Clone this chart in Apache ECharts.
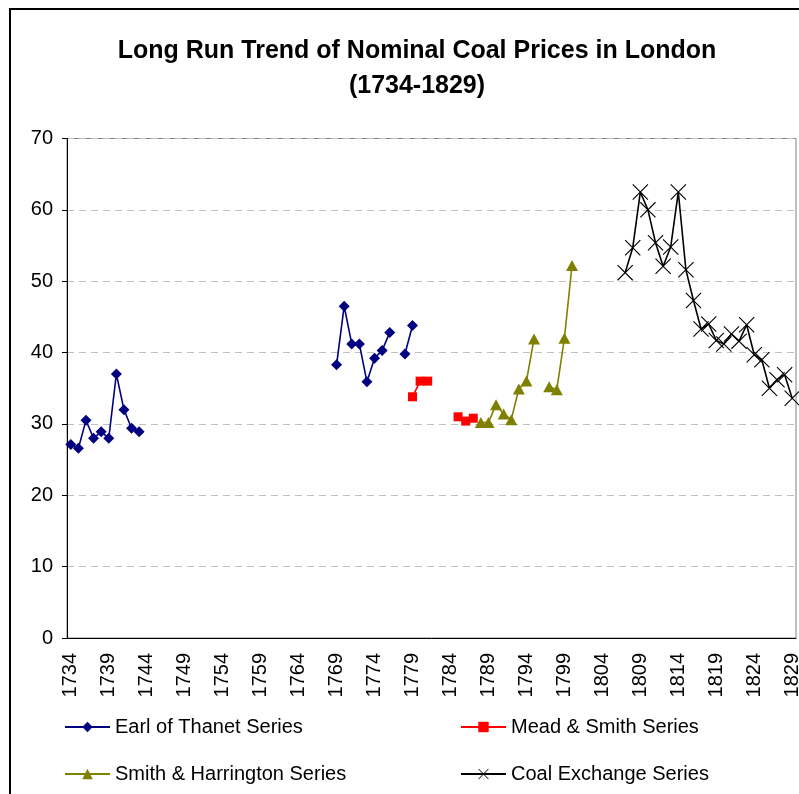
<!DOCTYPE html>
<html>
<head>
<meta charset="utf-8">
<script src="https://cdn.jsdelivr.net/npm/echarts@6/dist/echarts.min.js"></script>
<style>
html,body{margin:0;padding:0;background:#fff;}
#main1{width:799px;height:794px;}
</style>
</head>
<body>
<div id="main1"></div>
<script>
var years = ['1734','1735','1736','1737','1738','1739','1740','1741','1742','1743','1744','1745','1746','1747','1748','1749',
	'1750','1751','1752','1753','1754','1755','1756','1757','1758','1759','1760','1761','1762','1763','1764','1765','1766','1767','1768','1769',
	'1770','1771','1772','1773','1774','1775','1776','1777','1778','1779','1780','1781','1782','1783','1784','1785','1786','1787','1788','1789',
	'1790','1791','1792','1793','1794','1795','1796','1797','1798','1799','1800','1801','1802','1803','1804','1805','1806','1807','1808','1809',
	'1810','1811','1812','1813','1814','1815','1816','1817','1818','1819','1820','1821','1822','1823','1824','1825','1826','1827','1828','1829'];

// [year, price] ; null breaks the line
var thanetData = [['1734',27.1],['1735',26.6],['1736',30.5],['1737',28.0],['1738',28.9],['1739',28.0],['1740',37.0],['1741',32.0],['1742',29.4],['1743',28.9],
	['1744',null],
	['1769',38.3],['1770',46.5],['1771',41.2],['1772',41.2],['1773',35.9],['1774',39.2],['1775',40.3],['1776',42.8],
	['1777',null],
	['1778',39.8],['1779',43.8]];

var meadData = [['1779',33.8],['1780',36.0],['1781',36.0],
	['1782',null],
	['1785',31.0],['1786',30.4],['1787',30.8]];

var smithData = [['1788',30.2],['1789',30.2],['1790',32.7],['1791',31.4],['1792',30.6],['1793',34.9],['1794',36.0],['1795',41.9],
	['1796',null],
	['1797',35.2],['1798',34.8],['1799',42.0],['1800',52.2]];

var coalData = [['1807',51.2],['1808',54.7],['1809',62.5],['1810',60.0],['1811',55.4],['1812',52.1],['1813',54.8],['1814',62.5],
	['1815',51.6],['1816',47.3],['1817',43.3],['1818',44.0],['1819',41.7],['1820',41.2],['1821',42.6],['1822',41.6],['1823',43.9],
	['1824',39.7],['1825',39.0],['1826',35.0],['1827',36.2],['1828',36.9],['1829',33.6]];

var seriesNames = ['Earl of Thanet Series','Mead & Smith Series','Smith & Harrington Series','Coal Exchange Series'];
var yTicks = [0,10,20,30,40,50,60,70];

var font = 'Liberation Sans, Arial, sans-serif';
var crossSymbol = 'path://M0,1L1,0L20,19L19,20Z M19,0L20,1L1,20L0,19Z';

function makeLine(name, data, color, symbol, size){
	return {
		name: name,
		type: 'line',
		data: data,
		symbol: symbol,
		symbolSize: size,
		showAllSymbol: true,
		connectNulls: false,
		animation: false,
		lineStyle: {color: color, width: 1.6},
		itemStyle: {color: color}
	}
}

function legendAt(name, left, top){
	return {
		data: [name],
		left: left,
		top: top,
		padding: 0,
		itemWidth: 45,
		itemHeight: 13,
		textStyle: {fontFamily: font, fontSize: 20, color: '#000'}
	}
}

var myChart = echarts.init(document.getElementById('main1'));

var option = {
	backgroundColor: '#fff',
	title: {
		text: 'Long Run Trend of Nominal Coal Prices in London\n(1734-1829)',
		left: 412,
		top: 29,
		textAlign: 'center',
		textStyle: {fontFamily: font, fontSize: 25, fontWeight: 'bold', color: '#000', lineHeight: 35}
	},
	graphic: [{
		type: 'rect',
		shape: {x: 10, y: 9, width: 1000, height: 1000},
		style: {fill: 'none', stroke: '#000', lineWidth: 2},
		silent: true
	}],
	legend: [
		legendAt(seriesNames[0], 64, 717),
		legendAt(seriesNames[1], 460, 717),
		legendAt(seriesNames[2], 64, 764),
		legendAt(seriesNames[3], 460, 764)
	],
	grid: {
		left: 67, right: 3, top: 138.5, bottom: 156,
		containLabel: false,
		outerBoundsMode: 'none',
		show: true, borderColor: '#808080', borderWidth: 1
	},
	xAxis: {
		type: 'category',
		data: years,
		boundaryGap: true,
		axisLine: {lineStyle: {color: '#000', width: 1}},
		axisTick: {interval: 0, length: 5, lineStyle: {color: '#000'}},
		axisLabel: {interval: 4, rotate: 90, margin: 15, fontFamily: font, fontSize: 20, color: '#000'},
		splitLine: {show: false}
	},
	yAxis: {
		type: 'value',
		min: yTicks[0],
		max: yTicks[yTicks.length - 1],
		interval: 10,
		axisLine: {show: true, lineStyle: {color: '#000', width: 1}},
		axisTick: {show: true, length: 5, lineStyle: {color: '#000'}},
		axisLabel: {margin: 14, fontFamily: font, fontSize: 20, color: '#000'},
		splitLine: {show: true, lineStyle: {color: '#c0c0c0', type: [7, 5], width: 1}}
	},
	series: [
		makeLine(seriesNames[0], thanetData, '#000080', 'diamond', 11),
		makeLine(seriesNames[1], meadData, '#ff0000', 'rect', 9),
		makeLine(seriesNames[2], smithData, '#808000', 'triangle', [12, 11]),
		makeLine(seriesNames[3], coalData, '#000000', crossSymbol, 16)
	]
};

myChart.setOption(option);
</script>
</body>
</html>
